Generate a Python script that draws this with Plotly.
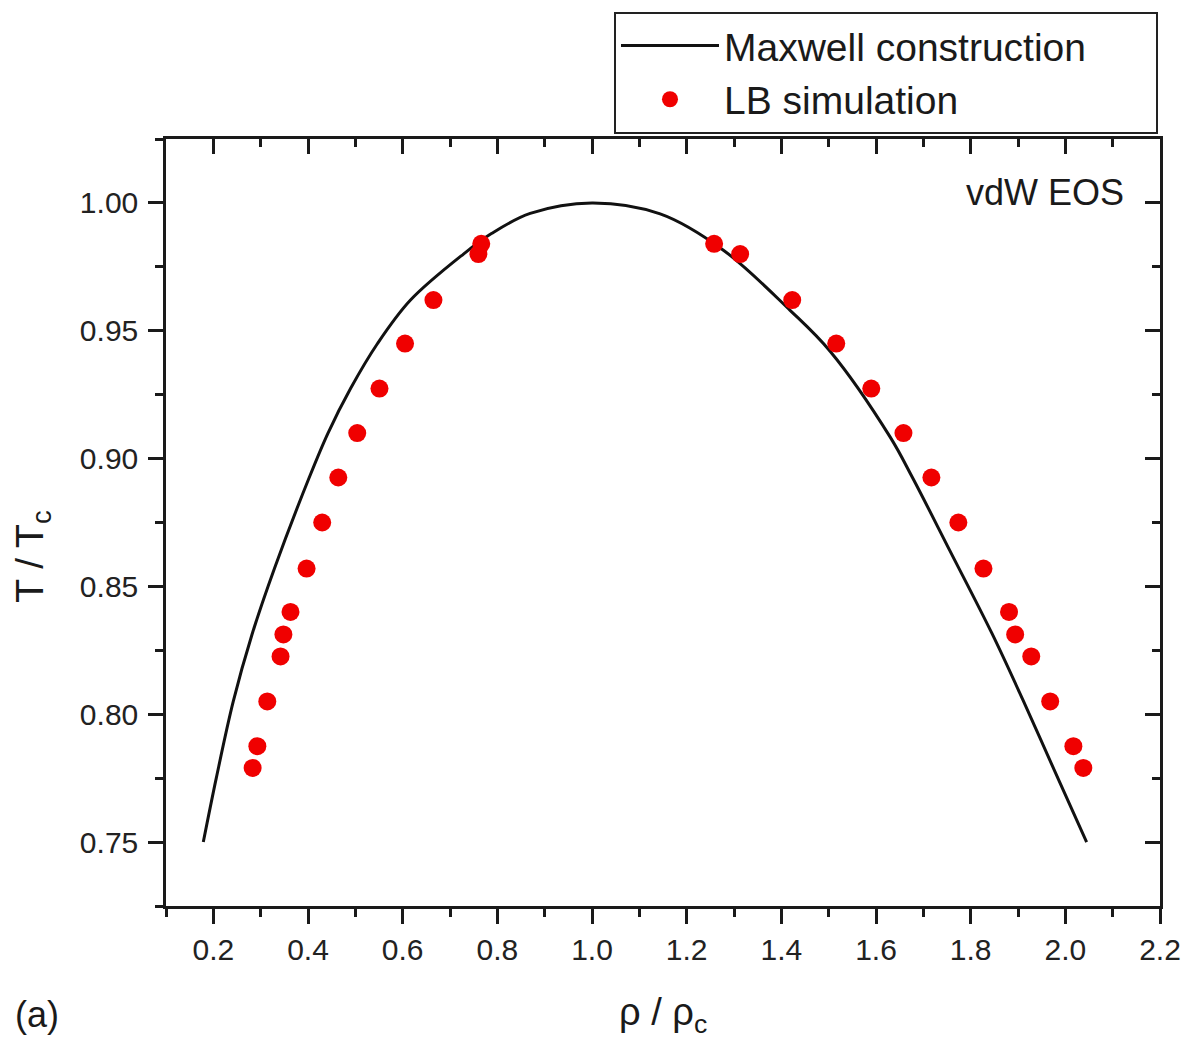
import plotly.graph_objects as go

# Maxwell construction
rho_maxwell = [0.1788, 0.2062, 0.2421, 0.2814, 0.3291, 0.4026, 0.4423, 0.4899, 0.5469,
               0.6166, 0.7285, 0.7876, 0.8694, 1.0, 1.144, 1.2776, 1.4185, 1.503, 1.6297,
               1.677, 1.756, 1.845, 1.9106, 1.9866, 2.045]
T_maxwell = [0.75, 0.775, 0.805, 0.831, 0.857, 0.8926, 0.910, 0.9274, 0.945,
             0.962, 0.980, 0.988, 0.9959, 1.0, 0.9957, 0.9815, 0.958, 0.942, 0.9085,
             0.8926, 0.864, 0.8316, 0.8055, 0.774, 0.75]

# LB simulation points
rho_lb_left = [0.283, 0.293, 0.314, 0.342, 0.348, 0.363, 0.397, 0.430, 0.464, 0.504,
               0.551, 0.605, 0.665, 0.760, 0.766]
rho_lb_right = [1.258, 1.313, 1.423, 1.516, 1.590, 1.658, 1.717, 1.774, 1.827, 1.881,
                1.894, 1.928, 1.968, 2.017, 2.038]
T_lb_left = [0.779, 0.7875, 0.805, 0.8226, 0.8312, 0.840, 0.857, 0.875, 0.8926, 0.910,
             0.9274, 0.945, 0.962, 0.980, 0.984]
T_lb_right = [0.984, 0.980, 0.962, 0.945, 0.9274, 0.910, 0.8926, 0.875, 0.857, 0.840,
              0.8312, 0.8226, 0.805, 0.7875, 0.779]

series_names = ["Maxwell construction", "LB simulation"]

x_range = [0.1, 2.2]
y_range = [0.725, 1.025]

FONT = "Liberation Sans, Arial, Helvetica, sans-serif"
AX = "#1a1a1a"
PAD = "\u00a0" * 6  # widen the legend box to the right like the reference

fig = go.Figure()
fig.add_trace(go.Scatter(x=rho_maxwell, y=T_maxwell, mode="lines",
                         line=dict(color="#111111", width=3, shape="spline", smoothing=1.0),
                         name=series_names[0] + PAD))
fig.add_trace(go.Scatter(x=rho_lb_left + rho_lb_right, y=T_lb_left + T_lb_right,
                         mode="markers",
                         marker=dict(color="#f00000", size=18, line=dict(width=0)),
                         name=series_names[1]))
# helper trace for mirrored inside ticks (top/right)
fig.add_trace(go.Scatter(x=[None], y=[None], xaxis="x2", yaxis="y2",
                         showlegend=False, hoverinfo="skip"))

common = dict(showline=True, linecolor=AX, linewidth=2.5, showgrid=False,
              zeroline=False, tickcolor=AX, tickwidth=2.5, automargin=False)

fig.update_layout(
    width=1185, height=1040,
    margin=dict(l=166, r=25, t=139, b=134),
    paper_bgcolor="white", plot_bgcolor="white",
    font=dict(family=FONT, color="#222222"),
    xaxis=dict(range=x_range, dtick=0.2, tick0=0.2, ticks="outside", ticklen=15,
               tickformat=".1f",
               tickfont=dict(size=30, family=FONT, color="#222222"),
               minor=dict(dtick=0.1, ticklen=8, ticks="outside", tickwidth=2.5, tickcolor=AX),
               **common),
    yaxis=dict(range=y_range, dtick=0.05, tick0=0.75, ticks="outside", ticklen=15,
               tickformat=".2f", ticklabelstandoff=4,
               tickfont=dict(size=30, family=FONT, color="#222222"),
               minor=dict(dtick=0.025, ticklen=8, ticks="outside", tickwidth=2.5, tickcolor=AX),
               **common),
    xaxis2=dict(range=x_range, overlaying="x", side="top", anchor="y", dtick=0.2, tick0=0.2,
                ticks="inside", ticklen=15, showticklabels=False,
                minor=dict(dtick=0.1, ticklen=8, ticks="inside", tickwidth=2.5, tickcolor=AX),
                **common),
    yaxis2=dict(range=y_range, overlaying="y", side="right", anchor="x", dtick=0.05, tick0=0.75,
                ticks="inside", ticklen=15, showticklabels=False,
                minor=dict(dtick=0.025, ticklen=8, ticks="inside", tickwidth=2.5, tickcolor=AX),
                **common),
    legend=dict(x=0.4507, y=1.166, xanchor="left", yanchor="top",
                bordercolor="#222222", borderwidth=2, bgcolor="white",
                font=dict(size=39, family=FONT, color="#1a1a1a"),
                itemwidth=98, tracegroupgap=0),
    showlegend=True,
    annotations=[
        dict(text="vdW EOS", x=0.9658, y=0.930, xref="paper", yref="paper",
             xanchor="right", yanchor="middle", showarrow=False,
             font=dict(size=36, family=FONT, color="#1a1a1a")),
        dict(text="T / T<sub>c</sub>", x=-0.135, y=0.455, xref="paper", yref="paper",
             textangle=-90, xanchor="center", yanchor="middle", showarrow=False,
             font=dict(size=39, family=FONT, color="#1a1a1a")),
        dict(text="ρ / ρ<sub>c</sub>", x=0.5, y=-0.142, xref="paper", yref="paper",
             xanchor="center", yanchor="middle", showarrow=False,
             font=dict(size=38, family=FONT, color="#1a1a1a")),
        dict(text="(a)", x=-0.154, y=-0.142, xref="paper", yref="paper",
             xanchor="left", yanchor="middle", showarrow=False,
             font=dict(size=36, family=FONT, color="#1a1a1a")),
    ],
)

fig.write_html("out.html")
